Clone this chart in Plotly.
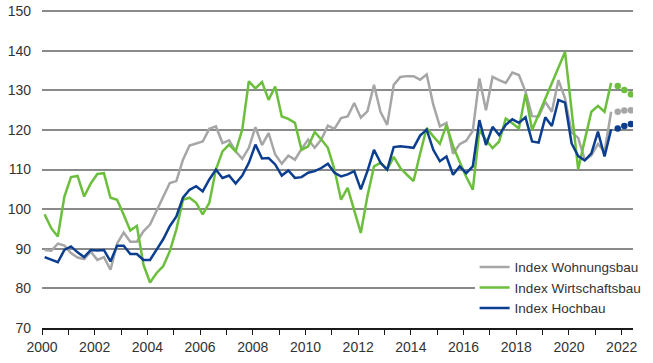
import plotly.graph_objects as go

# Quarterly index values, 2000 Q1 .. 2021 Q3
start_year = 2000
wohnungsbau = [
    89.7, 89.5, 91.3, 90.8, 88.9, 87.8, 87.4, 89.3, 87.2, 87.9,
    84.7, 91.3, 94.1, 91.8, 91.8, 94.4, 96.1, 99.5, 102.8, 106.6,
    107.1, 112.5, 116.1, 116.6, 117.1, 120.3, 120.9, 116.7, 117.4, 114.6,
    112.7, 115.5, 120.7, 116.2, 119.2, 113.8, 111.5, 113.5, 112.5, 115.2,
    117.6, 115.5, 117.6, 121.1, 120.3, 123.0, 123.4, 126.8, 123.1, 124.7,
    131.4, 124.5, 121.3, 131.4, 133.4, 133.6, 133.6, 132.7, 134.0, 126.4,
    120.9, 121.8, 114.0, 116.4, 117.3, 119.8, 133.0, 125.0, 133.4, 132.6,
    131.9, 134.5, 133.9, 129.7, 123.5, 123.4, 127.1, 124.6, 132.6, 128.0,
    119.4, 118.0, 112.5, 113.6, 116.5, 114.5, 124.6,
]
wirtschaftsbau = [
    98.7, 95.2, 93.1, 103.2, 108.1, 108.4, 103.2, 106.5, 108.9, 109.1,
    102.9, 102.4, 98.6, 94.6, 95.8, 86.0, 81.5, 83.9, 85.6, 89.4,
    94.9, 102.4, 102.9, 101.6, 98.7, 101.6, 110.0, 114.6, 116.3, 114.6,
    120.1, 132.3, 130.5, 132.1, 127.6, 131.0, 123.4, 122.8, 121.8, 115.0,
    115.9, 119.5, 117.6, 115.5, 110.0, 102.4, 105.4, 99.9, 94.0, 103.3,
    110.8, 111.7, 110.0, 113.2, 110.4, 108.7, 107.1, 114.0, 120.5, 118.4,
    116.5, 121.3, 115.9, 112.0, 108.2, 104.9, 120.0, 117.5, 115.4, 117.1,
    122.9, 121.7, 120.4, 129.1, 120.0, None, None, None, None, 139.7,
    125.0, 110.1, 117.5, 124.6, 126.1, 124.6, 131.9,
]
hochbau = [
    87.9, 87.3, 86.6, 89.7, 90.6, 89.1, 87.9, 89.7, 89.6, 89.7,
    86.8, 90.8, 90.8, 88.7, 88.7, 87.2, 87.2, 89.8, 92.4, 95.7,
    98.2, 102.9, 104.9, 105.8, 104.5, 107.5, 110.0, 107.9, 108.5, 106.5,
    108.5, 111.7, 116.3, 112.8, 112.9, 111.3, 108.5, 109.8, 107.9, 108.1,
    109.2, 109.6, 110.4, 111.5, 109.2, 108.3, 108.8, 109.6, 105.0, 109.6,
    115.0, 111.7, 110.0, 115.7, 115.9, 115.7, 115.5, 118.6, 120.1, 115.0,
    112.1, 113.3, 108.7, 110.8, 109.1, 110.8, 122.5, 116.2, 120.8, 118.7,
    121.3, 122.7, 121.8, 123.2, 117.1, 116.8, 123.2, 121.0, 127.6, 126.9,
    116.6, 113.4, 112.3, 114.1, 119.6, 113.3, 120.2,
]

# Forecast points (following three quarters)
fc_wohnungsbau = [124.6, 124.9, 125.0]
fc_wirtschaftsbau = [131.1, 130.1, 129.0]
fc_hochbau = [120.4, 121.0, 121.5]

x_ticks = list(range(2000, 2023))
x_labels = [str(y) if y % 2 == 0 else "" for y in x_ticks]
y_ticks = [70, 80, 90, 100, 110, 120, 130, 140, 150]

n = len(hochbau)
x_hist = [start_year + 0.1 + 0.25 * i for i in range(n)]
x_fc = [start_year + 0.1 + 0.25 * (n + i) for i in range(len(fc_hochbau))]

GRAY = "#a6a6a6"
GREEN = "#6cbf3c"
BLUE = "#0b3e8e"

fig = go.Figure()
series = [
    ("Index Wohnungsbau", wohnungsbau, fc_wohnungsbau, GRAY),
    ("Index Wirtschaftsbau", wirtschaftsbau, fc_wirtschaftsbau, GREEN),
    ("Index Hochbau", hochbau, fc_hochbau, BLUE),
]
for name, vals, fc, col in series:
    fig.add_trace(go.Scatter(
        x=x_hist, y=vals, mode="lines", name=name, connectgaps=True,
        line=dict(color=col, width=2.5),
    ))
for name, vals, fc, col in series:
    fig.add_trace(go.Scatter(
        x=x_fc, y=fc, mode="markers", name=name, showlegend=False,
        marker=dict(color=col, size=6.5),
    ))

fig.update_layout(
    template="none",
    width=653, height=363,
    margin=dict(l=42, r=20, t=10, b=35, autoexpand=False),
    paper_bgcolor="white", plot_bgcolor="white",
    font=dict(family="Liberation Sans, Arial, sans-serif", size=14, color="#333333"),
    legend=dict(
        x=0.732, y=0.24, xanchor="left", yanchor="top",
        bgcolor="white", font=dict(size=13.5, color="#333333"),
    ),
    showlegend=True,
    xaxis=dict(
        range=[2000, 2022.43], automargin=False,
        tickvals=x_ticks, ticktext=x_labels,
        showgrid=False, zeroline=False,
        showline=True, linecolor="#1a1a1a", linewidth=1.5,
        ticks="outside", ticklen=5, tickwidth=1.3, tickcolor="#1a1a1a",
    ),
    yaxis=dict(
        range=[70, 150.3], tickvals=y_ticks, automargin=False,
        showgrid=True, gridcolor="#8a8a8a", gridwidth=1.5,
        zeroline=False, showline=False, ticks="", ticklabelstandoff=10,
    ),
)

fig.write_html(
    "out.html",
    config={"displayModeBar": False},
    post_script="document.body.style.margin='0';document.body.style.overflow='hidden';",
)
